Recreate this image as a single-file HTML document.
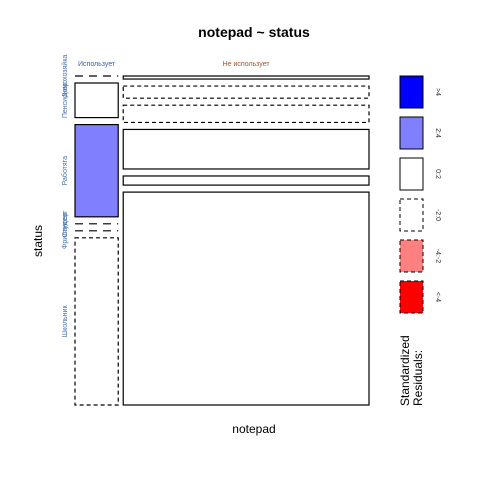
<!DOCTYPE html>
<html><head><meta charset="utf-8"><style>
body{margin:0;background:#fff;}
svg{font-family:"Liberation Sans","DejaVu Sans",sans-serif;}
</style></head><body>
<svg id="chart" width="480" height="480" viewBox="0 0 480 480">
<text x="254" y="37" text-anchor="middle" font-size="14" font-weight="bold">notepad ~ status</text>
<text x="254" y="433" text-anchor="middle" font-size="12">notepad</text>
<text transform="translate(42,241) rotate(-90)" text-anchor="middle" font-size="12">status</text>
<g id="cells"></g>
<g id="legend"></g>
</svg>
<script>
const columns = ["Использует", "Не использует"];
const statuses = ["Домохозяйка", "Пенсионер", "Работяга", "Студент", "Фрилансер", "Школьник"];
const countsUse = [0, 6, 16, 0, 0, 29];
const countsNoUse = [3, 12, 17, 39, 9, 210];
const residUse = [-0.5, 1.0, 3.0, -0.5, -0.5, -1.5];
const residNoUse = [0.3, -0.5, -0.8, 0.5, 0.3, 0.6];
const legendLabels = [">4", "2:4", "0:2", "-2:0", "-4:-2", "<-4"];

const NS = "http://www.w3.org/2000/svg";
const cells = document.getElementById('cells');
const X0 = 75, X1 = 369, Y0 = 76, Y1 = 405, GX = 5, GY = 7;
function mk(tag, attrs, parent){const e=document.createElementNS(NS,tag);for(const k in attrs)e.setAttribute(k,attrs[k]);parent.appendChild(e);return e;}
function fillFor(r){return r>4?"#0000ff":r>2?"#8080ff":r<-4?"#ff0000":r<-2?"#ff8080":"#ffffff";}
const colCounts=[countsUse,countsNoUse], colRes=[residUse,residNoUse];
const totals=colCounts.map(c=>c.reduce((a,b)=>a+b,0));
const grand=totals[0]+totals[1];
const availW=X1-X0-GX;
let cx=X0;
const colColors=["#3a5fa8","#a0522d"];
colCounts.forEach((cnt,ci)=>{
  const w=totals[ci]/grand*availW;
  const lab=mk('text',{x:cx+w/2,y:66,'text-anchor':'middle','font-size':7,fill:colColors[ci]},document.getElementById('chart'));
  lab.textContent=columns[ci];
  
  
  const availH=Y1-Y0-GY*(cnt.length-1);
  let cy=Y0;
  cnt.forEach((v,ri)=>{
    const h=v/totals[ci]*availH;
    const r=colRes[ci][ri];
    const dash=r<0?"4,3":"none";
    let el;
    if(h<0.5){el=mk('line',{x1:cx,y1:cy,x2:cx+w,y2:cy,stroke:'#000','stroke-width':1.2,'stroke-dasharray':r<0?"8,6":"none"},cells);}
    else el=mk('rect',{x:cx,y:cy,width:w,height:h,fill:fillFor(r),stroke:'#000','stroke-width':1.2,'stroke-dasharray':dash},cells);
    
    
    if(ci===0){
      const t=mk('text',{transform:`translate(67,${cy+h/2}) rotate(-90)`,'text-anchor':'middle','font-size':7,fill:'#4a6fa5'},document.getElementById('chart'));
      t.textContent=statuses[ri];
      
      
    }
    cy+=h+GY;
  });
  cx+=w+GX;
});
const lg=document.getElementById('legend');
legendLabels.forEach((l,i)=>{
  const y=76+i*41;
  const vals=[5,3,1,-1,-3,-5];
  const r=mk('rect',{x:400,y:y,width:23,height:32,fill:fillFor(vals[i]),stroke:'#000','stroke-width':1,'stroke-dasharray':vals[i]<0?"4,3":"none"},lg);
  
  
  const t=mk('text',{transform:`translate(436,${y+16}) rotate(90)`,'text-anchor':'middle','font-size':7,fill:'#333'},lg);
  t.textContent=l;
  
  
});
const s=mk('text',{transform:'translate(409,406) rotate(-90)','font-size':12},lg);
s.textContent="Standardized";


const s2=mk('text',{transform:'translate(422,406) rotate(-90)','font-size':12},lg);
s2.textContent="Residuals:";


</script>
</body></html>
